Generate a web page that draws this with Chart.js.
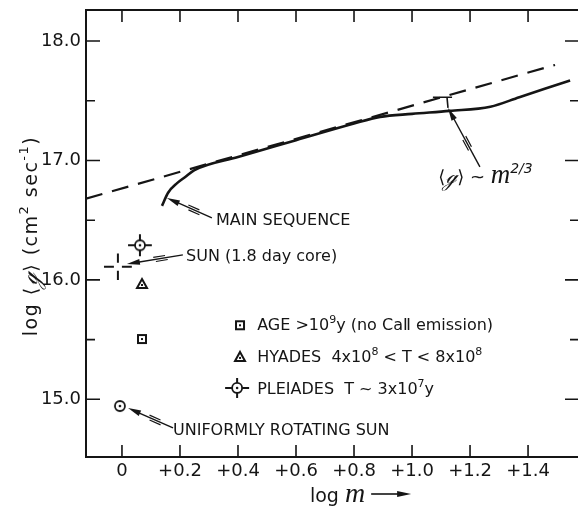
<!DOCTYPE html>
<html>
<head>
<meta charset="utf-8">
<script src="https://cdn.jsdelivr.net/npm/chart.js@4.4.1/dist/chart.umd.min.js"></script>
<style>
  html, body { margin: 0; padding: 0; background: #fff; overflow: hidden; }
  #chart { display: block; }
</style>
</head>
<body>
<canvas id="chart" width="590" height="508"></canvas>
<script>
// axes: log m (x) against log <j> (y)
const xTicks = [0, 0.2, 0.4, 0.6, 0.8, 1.0, 1.2, 1.4];
const xTickLabels = ['0', '+0.2', '+0.4', '+0.6', '+0.8', '+1.0', '+1.2', '+1.4'];
const yTicks = [15.0, 15.5, 16.0, 16.5, 17.0, 17.5, 18.0];
const yTickLabels = ['15.0', '', '16.0', '', '17.0', '', '18.0'];

// <j> ~ m^(2/3), dashed
const refX = [-0.124, 1.493];
const refY = [16.68, 17.80];

// main sequence, solid
const msX = [0.138, 0.159, 0.19, 0.217, 0.25, 0.40, 0.60, 0.80, 0.89, 1.00, 1.13, 1.27, 1.37, 1.545];
const msY = [16.62, 16.73, 16.81, 16.86, 16.92, 17.03, 17.17, 17.31, 17.365, 17.39, 17.415, 17.45, 17.53, 17.67];

// single stars / groups
const ageX = [0.069], ageY = [15.505];
const hyadesX = [0.069], hyadesY = [15.966];
const pleiadesX = [0.062], pleiadesY = [16.29], pleiadesXErr = [0.041], pleiadesYErr = [0.092];
const sunCoreX = [-0.014], sunCoreY = [16.11], sunCoreXErr = [0.048], sunCoreYErr = [0.11];
const uniformSunX = [-0.007], uniformSunY = [14.944];

const INK = '#151515';
const TXT = '16px "DejaVu Sans"';
const SUP = '11px "DejaVu Sans"';
const SCRIPT = 'italic 20px "DejaVu Serif"';

function pts(xs, ys) {
  return xs.map((x, i) => ({ x: x, y: ys[i] }));
}

// symbols, drawn at pixel centre
function drawSquare(ctx, cx, cy) {
  ctx.lineWidth = 2;
  ctx.strokeRect(cx - 4, cy - 4, 8, 8);
  ctx.fillRect(cx - 1, cy - 1, 2, 2);
}
function drawTriangle(ctx, cx, cy) {
  ctx.lineWidth = 2;
  ctx.beginPath();
  ctx.moveTo(cx, cy - 5); ctx.lineTo(cx + 5, cy + 4); ctx.lineTo(cx - 5, cy + 4);
  ctx.closePath(); ctx.stroke();
  ctx.fillRect(cx - 1, cy, 2, 2);
}
function drawCircleDot(ctx, cx, cy) {
  ctx.lineWidth = 1.8;
  ctx.beginPath(); ctx.arc(cx, cy, 5, 0, Math.PI * 2);
  ctx.fillStyle = '#fff'; ctx.fill();
  ctx.fillStyle = INK; ctx.stroke();
  ctx.beginPath(); ctx.arc(cx, cy, 1.3, 0, Math.PI * 2); ctx.fill();
}
function drawArms(ctx, cx, cy, dx, dy, gap) {
  ctx.lineWidth = 2;
  ctx.beginPath();
  ctx.moveTo(cx - dx, cy); ctx.lineTo(cx - gap, cy);
  ctx.moveTo(cx + gap, cy); ctx.lineTo(cx + dx, cy);
  ctx.moveTo(cx, cy - dy); ctx.lineTo(cx, cy - gap);
  ctx.moveTo(cx, cy + gap); ctx.lineTo(cx, cy + dy);
  ctx.stroke();
}

function symbolCanvas(fn) {
  const c = document.createElement('canvas');
  c.width = 18; c.height = 18;
  const g = c.getContext('2d');
  g.strokeStyle = INK; g.fillStyle = INK;
  fn(g, 9, 9);
  return c;
}

function arrow(ctx, x0, y0, x1, y1) {
  const a = Math.atan2(y1 - y0, x1 - x0);
  const len = Math.hypot(x1 - x0, y1 - y0);
  ctx.save();
  ctx.translate(x0, y0); ctx.rotate(a);
  ctx.lineWidth = 1.4;
  ctx.beginPath(); ctx.moveTo(0, 0); ctx.lineTo(len - 8, 0); ctx.stroke();
  ctx.beginPath(); ctx.moveTo(len, 0); ctx.lineTo(len - 13, -3); ctx.lineTo(len - 13, 3);
  ctx.closePath(); ctx.fill();
  const m = len * 0.4;
  ctx.lineWidth = 1.2;
  ctx.beginPath();
  ctx.moveTo(m - 7, -2.2); ctx.lineTo(m + 5, -2.2);
  ctx.moveTo(m - 5, 2.2); ctx.lineTo(m + 7, 2.2);
  ctx.stroke();
  ctx.restore();
}

function runs(ctx, x, y, parts) {
  for (const p of parts) {
    ctx.font = p.font || TXT;
    ctx.fillText(p.t, x, y + (p.dy || 0));
    x += ctx.measureText(p.t).width;
  }
  return x;
}
function runsWidth(ctx, parts) {
  let w = 0;
  for (const p of parts) { ctx.font = p.font || TXT; w += ctx.measureText(p.t).width; }
  return w;
}

// notes placed in data units
const notes = [
  { x: 0.324, y: 16.46, parts: [{ t: 'MAIN SEQUENCE' }] },
  { x: 0.221, y: 16.158, parts: [{ t: 'SUN (1.8 day core)' }] },
  { x: 0.176, y: 14.70, parts: [{ t: 'UNIFORMLY ROTATING SUN' }] },
  { x: 0.466, y: 15.58, parts: [{ t: 'AGE >10' }, { t: '9', font: SUP, dy: -7 }, { t: 'y (no Ca\u2161 emission)' }] },
  { x: 0.466, y: 15.31, parts: [{ t: 'HYADES  4x10' }, { t: '8', font: SUP, dy: -7 }, { t: ' < T < 8x10' }, { t: '8', font: SUP, dy: -7 }] },
  { x: 0.466, y: 15.045, parts: [{ t: 'PLEIADES  T ~ 3x10' }, { t: '7', font: SUP, dy: -7 }, { t: 'y' }] },
  { x: 1.090, y: 16.81, parts: [{ t: '\u27E8', font: '18px "DejaVu Sans"' }, { t: '\u210A', font: SCRIPT }, { t: '\u27E9 ~ ', font: '18px "DejaVu Sans"' }, { t: 'm', font: 'italic 27px "Liberation Serif"' }, { t: '2/3', font: 'italic 14px "DejaVu Sans"', dy: -10 }] }
];
const arrows = [
  [0.310, 16.52, 0.155, 16.686],
  [0.210, 16.21, 0.017, 16.133],
  [0.176, 14.76, 0.021, 14.927],
  [1.234, 16.946, 1.124, 17.44]
];
const legendSymbols = [
  { x: 0.407, y: 15.62, fn: drawSquare },
  { x: 0.407, y: 15.355, fn: drawTriangle },
  { x: 0.397, y: 15.095, fn: drawCircleDot, arms: true }
];

const errorBars = {
  id: 'errorBars',
  beforeDatasetsDraw(chart) {
    const ctx = chart.ctx, sx = chart.scales.x, sy = chart.scales.y;
    ctx.save();
    ctx.strokeStyle = INK;
    pleiadesX.forEach((x, i) => {
      const cx = sx.getPixelForValue(x), cy = sy.getPixelForValue(pleiadesY[i]);
      const dx = sx.getPixelForValue(x + pleiadesXErr[i]) - cx;
      const dy = cy - sy.getPixelForValue(pleiadesY[i] + pleiadesYErr[i]);
      drawArms(ctx, cx, cy, dx, dy, 0);
    });
    sunCoreX.forEach((x, i) => {
      const cx = sx.getPixelForValue(x), cy = sy.getPixelForValue(sunCoreY[i]);
      const dx = sx.getPixelForValue(x + sunCoreXErr[i]) - cx;
      const dy = cy - sy.getPixelForValue(sunCoreY[i] + sunCoreYErr[i]);
      drawArms(ctx, cx, cy, dx, dy, 4);
    });
    ctx.restore();
  }
};

const frameAndNotes = {
  id: 'frameAndNotes',
  afterDraw(chart) {
    const ctx = chart.ctx, a = chart.chartArea;
    const sx = chart.scales.x, sy = chart.scales.y;
    ctx.save();
    ctx.strokeStyle = INK; ctx.fillStyle = INK;

    // frame (right side falls past the page edge) with inward ticks
    ctx.lineWidth = 2;
    ctx.beginPath();
    ctx.moveTo(a.right, a.top); ctx.lineTo(a.left, a.top);
    ctx.lineTo(a.left, a.bottom); ctx.lineTo(a.right, a.bottom);
    ctx.stroke();
    ctx.lineWidth = 1.6;
    ctx.beginPath();
    xTicks.forEach(v => {
      const p = sx.getPixelForValue(v);
      ctx.moveTo(p, a.bottom); ctx.lineTo(p, a.bottom - 12);
      ctx.moveTo(p, a.top); ctx.lineTo(p, a.top + 12);
    });
    yTicks.forEach(v => {
      const p = sy.getPixelForValue(v);
      const l = Number.isInteger(v) ? 14 : 9;
      ctx.moveTo(a.left, p); ctx.lineTo(a.left + l, p);
      ctx.moveTo(a.right, p); ctx.lineTo(a.right - l - 3, p);
    });
    ctx.stroke();

    // notes and arrows
    ctx.textBaseline = 'alphabetic';
    ctx.textAlign = 'left';
    notes.forEach(n => runs(ctx, sx.getPixelForValue(n.x), sy.getPixelForValue(n.y), n.parts));
    arrows.forEach(r => arrow(ctx, sx.getPixelForValue(r[0]), sy.getPixelForValue(r[1]),
                                   sx.getPixelForValue(r[2]), sy.getPixelForValue(r[3])));
    // bar from the arrow up to the m^(2/3) line
    const tx = sx.getPixelForValue(1.124), ty0 = sy.getPixelForValue(17.44), ty1 = sy.getPixelForValue(17.53);
    ctx.lineWidth = 1.6;
    ctx.beginPath();
    ctx.moveTo(tx, ty0); ctx.lineTo(tx - 1, ty1);
    ctx.moveTo(sx.getPixelForValue(1.072), ty1); ctx.lineTo(sx.getPixelForValue(1.138), ty1);
    ctx.stroke();

    legendSymbols.forEach(s => {
      const cx = sx.getPixelForValue(s.x), cy = sy.getPixelForValue(s.y);
      if (s.arms) drawArms(ctx, cx, cy, 12, 10, 0);
      s.fn(ctx, cx, cy);
    });

    // y title
    const yTitle = [{ t: 'log ' }, { t: '\u27E8' }, { t: '\u210A', font: 'italic 22px "DejaVu Serif"' }, { t: '\u27E9 (cm' },
                    { t: '2', font: '13px "DejaVu Sans"', dy: -9 }, { t: ' sec' }, { t: '-1', font: '13px "DejaVu Sans"', dy: -9 }, { t: ')' }];
    yTitle.forEach(p => { if (!p.font) p.font = '19px "DejaVu Sans"'; });
    ctx.save();
    ctx.letterSpacing = '1.5px';
    ctx.translate(37, 236);
    ctx.rotate(-Math.PI / 2);
    runs(ctx, -runsWidth(ctx, yTitle) / 2, 0, yTitle);
    ctx.restore();

    // x title
    const bx = sx.getPixelForValue(0.648), by = a.bottom + 45;
    const end = runs(ctx, bx, by, [{ t: 'log ', font: '19px "DejaVu Sans"' }, { t: 'm', font: 'italic 28px "Liberation Serif"' }]);
    ctx.lineWidth = 1.6;
    ctx.beginPath(); ctx.moveTo(end + 6, by - 8); ctx.lineTo(end + 36, by - 8); ctx.stroke();
    ctx.beginPath(); ctx.moveTo(end + 46, by - 8); ctx.lineTo(end + 32, by - 11); ctx.lineTo(end + 32, by - 5);
    ctx.closePath(); ctx.fill();

    ctx.restore();
  }
};

const tickFont = { family: 'DejaVu Sans', size: 18 };

new Chart(document.getElementById('chart'), {
  type: 'scatter',
  data: {
    datasets: [
      { label: 'age', data: pts(ageX, ageY), pointStyle: symbolCanvas(drawSquare) },
      { label: 'hyades', data: pts(hyadesX, hyadesY), pointStyle: symbolCanvas(drawTriangle) },
      { label: 'pleiades', data: pts(pleiadesX, pleiadesY), pointStyle: symbolCanvas(drawCircleDot) },
      { label: 'uniform sun', data: pts(uniformSunX, uniformSunY), pointStyle: symbolCanvas(drawCircleDot) },
      { label: 'sun core', data: pts(sunCoreX, sunCoreY), pointRadius: 0 },
      { label: 'main sequence', data: pts(msX, msY), showLine: true, pointRadius: 0,
        borderColor: INK, borderWidth: 2.6, cubicInterpolationMode: 'monotone' },
      { label: 'm^2/3', data: pts(refX, refY), showLine: true, pointRadius: 0,
        borderColor: INK, borderWidth: 2.2, borderDash: [17, 10] }
    ]
  },
  options: {
    responsive: false,
    animation: false,
    layout: { autoPadding: false, padding: { left: 0, top: 10, right: 8, bottom: 0 } },
    plugins: { legend: { display: false }, tooltip: { enabled: false } },
    scales: {
      x: {
        type: 'linear', min: -0.124, max: 1.586,
        afterFit: s => { s.height = 51; s.paddingLeft = 0; s.paddingRight = 0; },
        afterBuildTicks: s => { s.ticks = xTicks.map(v => ({ value: v })); },
        ticks: { callback: (v, i) => xTickLabels[i], autoSkip: false, maxRotation: 0,
                 font: tickFont, color: INK, padding: 4 },
        grid: { display: false, drawTicks: false },
        border: { display: false }
      },
      y: {
        type: 'linear', min: 14.517, max: 18.26,
        afterFit: s => { s.width = 86; s.paddingTop = 0; s.paddingBottom = 0; },
        afterBuildTicks: s => { s.ticks = yTicks.map(v => ({ value: v })); },
        ticks: { callback: (v, i) => yTickLabels[i], autoSkip: false,
                 font: tickFont, color: INK, padding: 5 },
        grid: { display: false, drawTicks: false },
        border: { display: false }
      }
    }
  },
  plugins: [errorBars, frameAndNotes]
});
</script>
</body>
</html>
